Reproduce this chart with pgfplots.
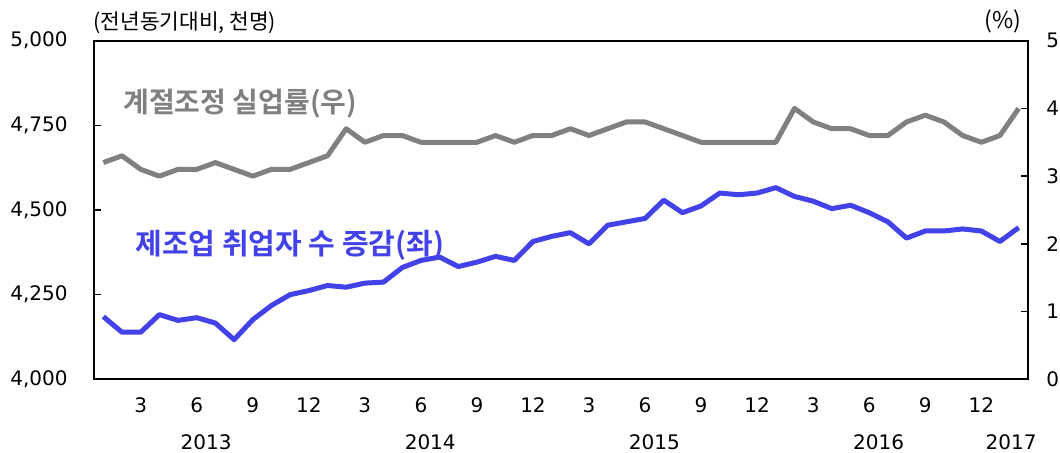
\documentclass[border=0pt]{standalone}
\usepackage{fontspec}
\setmainfont{DejaVu Sans}
\newfontfamily\kr[BoldFont={Noto Sans CJK KR Bold}]{Noto Sans CJK KR}
\usepackage{pgfplots}
\pgfplotsset{compat=1.18}
\definecolor{lgray}{RGB}{128,128,128}
\definecolor{lblue}{RGB}{66,66,232}
\pgfplotstableread{
i v
0 4185
1 4139
2 4139
3 4191
4 4174
5 4182
6 4166
7 4117
8 4176
9 4218
10 4250
11 4262
12 4277
13 4272
14 4284
15 4287
16 4330
17 4351
18 4361
19 4333
20 4346
21 4363
22 4351
23 4407
24 4422
25 4433
26 4400
27 4455
28 4465
29 4475
30 4529
31 4492
32 4512
33 4550
34 4545
35 4550
36 4566
37 4540
38 4526
39 4504
40 4514
41 4492
42 4465
43 4417
44 4438
45 4438
46 4444
47 4438
48 4407
49 4448
}\blue
\pgfplotstableread{
i v
0 3.2
1 3.3
2 3.1
3 3.0
4 3.1
5 3.1
6 3.2
7 3.1
8 3.0
9 3.1
10 3.1
11 3.2
12 3.3
13 3.7
14 3.5
15 3.6
16 3.6
17 3.5
18 3.5
19 3.5
20 3.5
21 3.6
22 3.5
23 3.6
24 3.6
25 3.7
26 3.6
27 3.7
28 3.8
29 3.8
30 3.7
31 3.6
32 3.5
33 3.5
34 3.5
35 3.5
36 3.5
37 4.0
38 3.8
39 3.7
40 3.7
41 3.6
42 3.6
43 3.8
44 3.9
45 3.8
46 3.6
47 3.5
48 3.6
49 4.0
}\gray
\begin{document}
\begin{tikzpicture}
\useasboundingbox (-47pt,-36.85pt) rectangle (483pt,189.65pt);
\pgfplotsset{
  every axis/.append style={
    scale only axis, width=467pt, height=169.3pt,
    xmin=-0.5, xmax=49.5,
    axis line style={line width=0.9pt},
    tick align=inside,
    tick style={line width=0.8pt, black},
    major tick length=3.5pt,
    tick label style={font=\fontsize{10}{12}\selectfont, inner sep=0pt},
    /pgf/number format/assume math mode=true,
    /pgf/number format/1000 sep={,},
  }
}
\begin{axis}[
  at={(0,0)}, anchor=south west,
  ymin=4000, ymax=5000,
  ytick={4000,4250,4500,4750,5000},
  ytick pos=left,
  yticklabel style={anchor=east, xshift=-13pt},
  xtick={2,5,8,11,14,17,20,23,26,29,32,35,38,41,44,47},
  xticklabels={3,6,9,12,3,6,9,12,3,6,9,12,3,6,9,12},
  xtick pos=bottom,
  xtick style={draw=none},
  xticklabel style={anchor=center, yshift=-12.9pt},
  extra x ticks={5.5,17.5,29.5,41.5,48.6},
  extra x tick labels={2013,2014,2015,2016,2017},
  extra x tick style={major tick length=0pt, tick style={draw=none}, tick label style={anchor=center, yshift=-18.4pt}},
  clip=false,
]
\addplot[lblue, line width=2.5pt, line join=round] table[x=i,y=v] {\blue};
\node[anchor=west, inner sep=0pt, font=\kr\fontsize{10.7}{12}\selectfont] at (rel axis cs:-0.001,1.052) {(전년동기대비, 천명)};
\node[anchor=center, inner sep=0pt, font=\kr\fontsize{11.5}{13}\selectfont] at (rel axis cs:0.973,1.056) {(\%)};
\node[anchor=west, inner sep=0pt, text=lgray, font=\kr\bfseries\fontsize{14}{16}\selectfont] at (rel axis cs:0.031,0.813) {계절조정 실업률(우)};
\node[anchor=west, inner sep=0pt, text=lblue, font=\kr\bfseries\fontsize{14.5}{16}\selectfont] at (rel axis cs:0.044,0.396) {제조업 취업자 수 증감(좌)};
\end{axis}
\begin{axis}[
  at={(0,0)}, anchor=south west,
  ymin=0, ymax=5,
  ytick={0,1,2,3,4,5},
  axis y line*=right,
  hide x axis,
  yticklabel style={anchor=west, xshift=9pt},
]
\addplot[lgray, line width=2.5pt, line join=round] table[x=i,y=v] {\gray};
\end{axis}
\end{tikzpicture}
\end{document}
